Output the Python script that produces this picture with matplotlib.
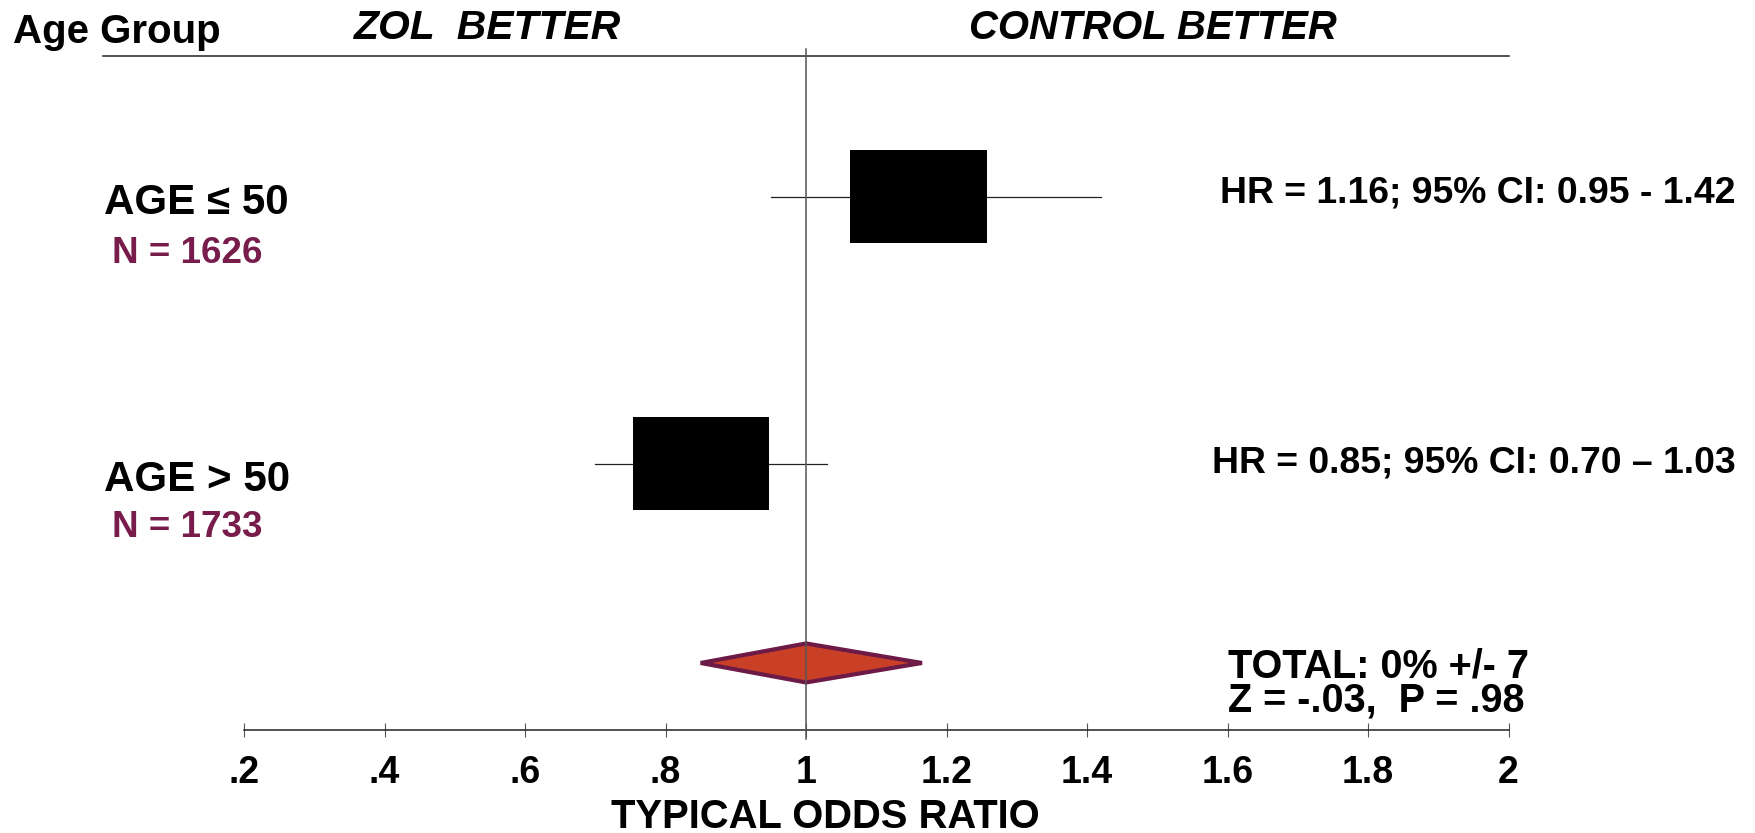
import numpy as np
import matplotlib.pyplot as plt

plt.rcParams['font.family'] = ['Liberation Sans', 'DejaVu Sans']
plt.rcParams['font.weight'] = 'bold'

# subgroup results
groups = ["AGE \u2264 50", "AGE > 50"]
counts = ["N = 1626", "N = 1733"]
hr = [1.16, 0.85]
ci_low = [0.95, 0.70]
ci_high = [1.42, 1.03]
hr_labels = ["HR = 1.16; 95% CI: 0.95 - 1.42",
             "HR = 0.85; 95% CI: 0.70 \u2013 1.03"]

# pooled estimate
total_est, total_low, total_high = 1.0, 0.85, 1.165
total_text = ["TOTAL: 0% +/- 7", "Z = -.03,  P = .98"]

ticks = [0.2, 0.4, 0.6, 0.8, 1.0, 1.2, 1.4, 1.6, 1.8, 2.0]
tick_labels = [".2", ".4", ".6", ".8", "1", "1.2", "1.4", "1.6", "1.8", "2"]

W, H = 1756, 833
def fx(px): return px / W
def fy(py): return 1 - py / H

maroon = "#781c4c"

fig = plt.figure(figsize=(W / 100, H / 100), dpi=100)
ax = fig.add_axes([fx(244), fy(730), fx(1508.6) - fx(244), (730 - 55.7) / H])
ax.set_xlim(0.2, 2.0)
ax.set_ylim(0, 674)

row_y = [533, 266]
total_y = 67
box_w, box_h = 0.194, 93

# confidence intervals and boxes
for i in range(len(hr)):
    ax.plot([ci_low[i], ci_high[i]], [row_y[i], row_y[i]], color="#222222",
            lw=0.9, clip_on=False, zorder=2)
ax.barh(row_y, [box_w] * len(hr), left=np.array(hr) - box_w / 2, height=box_h,
        color="black", zorder=3)

# pooled diamond
ax.fill([total_low, total_est, total_high, total_est],
        [total_y, total_y + 19.5, total_y, total_y - 19.5],
        facecolor="#c94026", edgecolor="#6e1a47", lw=3.0, zorder=3)

# line of no effect
ax.axvline(1.0, ymin=-9 / 674, ymax=(730 - 49) / 674, color="#555555",
           lw=1.1, clip_on=False, zorder=5)

# header rule
ax.plot([0.0, 2.0], [674, 674], color="#222222", lw=1.1, clip_on=False)

for s in ["top", "left", "right"]:
    ax.spines[s].set_visible(False)
ax.spines["bottom"].set_linewidth(1.1)
ax.spines["bottom"].set_color("#222222")
ax.set_yticks([])
ax.set_xticks(ticks)
ax.set_xticklabels(tick_labels, fontsize=27, fontweight="bold")
ax.tick_params(axis="x", direction="inout", length=9.4, width=0.8,
               color="#555555", pad=13.5)

# headings
fig.text(fx(12.6), fy(42.7), "Age Group", fontsize=29, va="baseline")
fig.text(fx(354), fy(39.3), "ZOL  BETTER", fontsize=29.4, style="italic",
         va="baseline")
fig.text(fx(969), fy(39.3), "CONTROL BETTER", fontsize=28.8, style="italic",
         va="baseline")

# row labels
lab_base = [214, 491]
n_base = [263, 537]
hr_base = [202, 472]
for i in range(len(groups)):
    fig.text(fx(104), fy(lab_base[i]), groups[i], fontsize=30.3, va="baseline")
    fig.text(fx(111.6), fy(n_base[i]), counts[i], fontsize=26.5,
             color=maroon, va="baseline")
    fig.text(fx(1736), fy(hr_base[i]), hr_labels[i], fontsize=26.9,
             ha="right", va="baseline")

fig.text(fx(1228), fy(677), total_text[0], fontsize=28.5, va="baseline")
fig.text(fx(1228), fy(712), total_text[1], fontsize=28.5, va="baseline")

fig.text(fx(825), fy(828), "TYPICAL ODDS RATIO", fontsize=28.8,
         ha="center", va="baseline")

fig.savefig("out.png", dpi=100)
